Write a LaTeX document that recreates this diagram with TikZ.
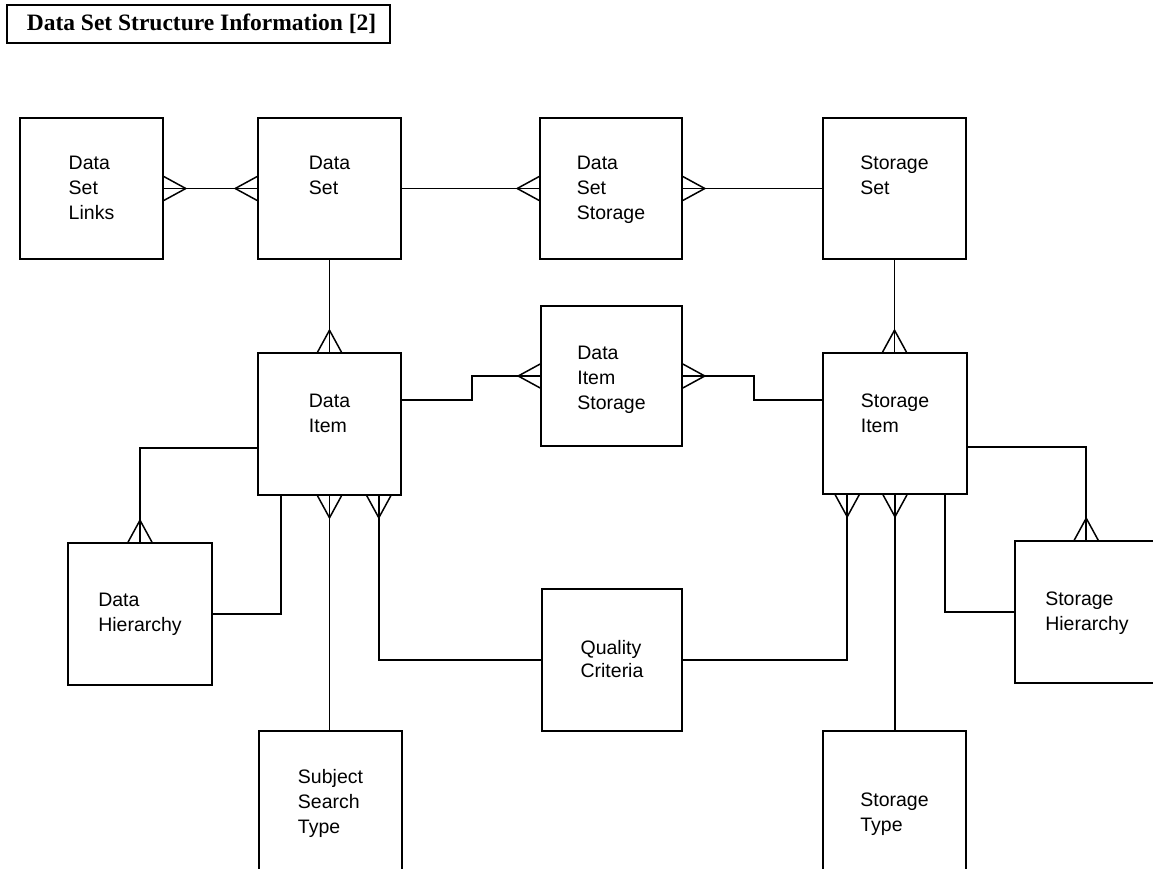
\documentclass[tikz,border=0pt]{standalone}
\usepackage{fontspec}
\setmainfont{Liberation Serif}
\newfontfamily\labelfont{Liberation Sans}
\usetikzlibrary{calc}

\tikzset{
  entity/.style={draw, line width=1.6pt, inner sep=0pt,
                 minimum width=143pt, minimum height=141pt},
  etext/.style={anchor=north, align=left, inner sep=0pt,
                font=\labelfont\fontsize{19.5}{25}\selectfont},
  conn/.style={line width=1.5pt},
  titlebox/.style={draw, line width=1.6pt, inner sep=0pt,
                   minimum width=383pt, minimum height=38pt,
                   font=\bfseries\fontsize{23.5}{26}\selectfont},
}

% crow's foot (many end) at a box edge; #2 = direction pointing away from the box
\newcommand{\crowfoot}[2]{%
  \draw[conn] ($#1+({#2+90}:12pt)$) -- ($#1+(#2:22pt)$) -- ($#1+({#2-90}:12pt)$);}

\begin{document}
\begin{tikzpicture}[x=1pt,y=1pt]
\useasboundingbox (0,0) rectangle (1153,-869);

% title
\node[titlebox] (title) at (198.5,-24) {\hspace{6pt}Data Set Structure Information [2]};

% entities
\node[entity] (dsl) at (91.5,-188.5) {};
\node[entity] (ds)  at (329.5,-188.5) {};
\node[entity, minimum width=142pt] (dss) at (611,-188.5) {};
\node[entity] (ss)  at (894.5,-188.5) {};
\node[entity, minimum height=142pt] (di) at (329.5,-424) {};
\node[entity, minimum width=141pt, minimum height=140pt] (dis) at (611.5,-376) {};
\node[entity, minimum width=144pt] (si) at (895,-423.5) {};
\node[entity, minimum width=144pt, minimum height=142pt] (dh) at (140,-614) {};
\node[entity, minimum width=140pt, minimum height=142pt] (qc) at (612,-660) {};
\node[entity, minimum width=160pt, minimum height=142pt] (sh) at (1095,-612) {};
\node[entity] (sst) at (330.5,-801.5) {};
\node[entity] (st)  at (894.5,-801.5) {};

% entity names
\node[etext] (dsl-t) at (91.5,-156) {Data\\Set\\Links};
\node[etext] (ds-t)  at (329.5,-156) {Data\\Set};
\node[etext] (dss-t) at (611,-156) {Data\\Set\\Storage};
\node[etext] (ss-t)  at (894.5,-156) {Storage\\Set};
\node[etext] (di-t)  at (329.5,-394) {Data\\Item};
\node[etext] (dis-t) at (611.5,-346) {Data\\Item\\Storage};
\node[etext] (si-t)  at (895,-394) {Storage\\Item};
\node[etext] (dh-t)  at (140,-593) {Data\\Hierarchy};
\node[etext, font=\labelfont\fontsize{19.5}{23.5}\selectfont] (qc-t) at (612,-640) {Quality\\Criteria};
\node[etext] (sh-t)  at (1087,-592) {Storage\\Hierarchy};
\node[etext] (sst-t) at (330.5,-769) {Subject\\Search\\Type};
\node[etext] (st-t)  at (894.5,-793) {Storage\\Type};

% relationships, top row
\draw[conn] (dsl.east) -- (ds.west);
\crowfoot{(dsl.east)}{0}
\crowfoot{(ds.west)}{180}
\draw[conn] (ds.east) -- (dss.west);
\crowfoot{(dss.west)}{180}
\draw[conn] (dss.east) -- (ss.west);
\crowfoot{(dss.east)}{0}

% data set / storage set to their items
\draw[conn] (ds.south) -- (ds.south |- di.north);
\crowfoot{(ds.south |- di.north)}{90}
\draw[conn] (ss.south) -- (ss.south |- si.north);
\crowfoot{(ss.south |- si.north)}{90}

% data item storage links
\draw[conn] ($(di.east)+(0,24)$) -- ++(70,0) |- (dis.west);
\crowfoot{(dis.west)}{180}
\draw[conn] (dis.east) -- ++(71,0) |- ($(si.west)+(0,23.5)$);
\crowfoot{(dis.east)}{0}

% data item hierarchy
\draw[conn] ($(di.west)+(0,-24)$) -| (dh.north);
\crowfoot{(dh.north)}{90}
\draw[conn] ($(di.south west)+(24,0)$) |- (dh.east);

% data item below
\draw[conn] (di.south) -- (di.south |- sst.north);
\crowfoot{(di.south)}{270}
\draw[conn] ($(di.south east)+(-23,0)$) |- (qc.west);
\crowfoot{($(di.south east)+(-23,0)$)}{270}

% storage item below
\draw[conn] ($(si.south west)+(25,0)$) |- (qc.east);
\crowfoot{($(si.south west)+(25,0)$)}{270}
\draw[conn] (si.south) -- (si.south |- st.north);
\crowfoot{(si.south)}{270}
\draw[conn] ($(si.south east)+(-23,0)$) |- (sh.west);

% storage item hierarchy
\draw[conn] ($(si.east)+(0,-23.5)$) -| ($(sh.north west)+(72,0)$);
\crowfoot{($(sh.north west)+(72,0)$)}{90}
\end{tikzpicture}
\end{document}
